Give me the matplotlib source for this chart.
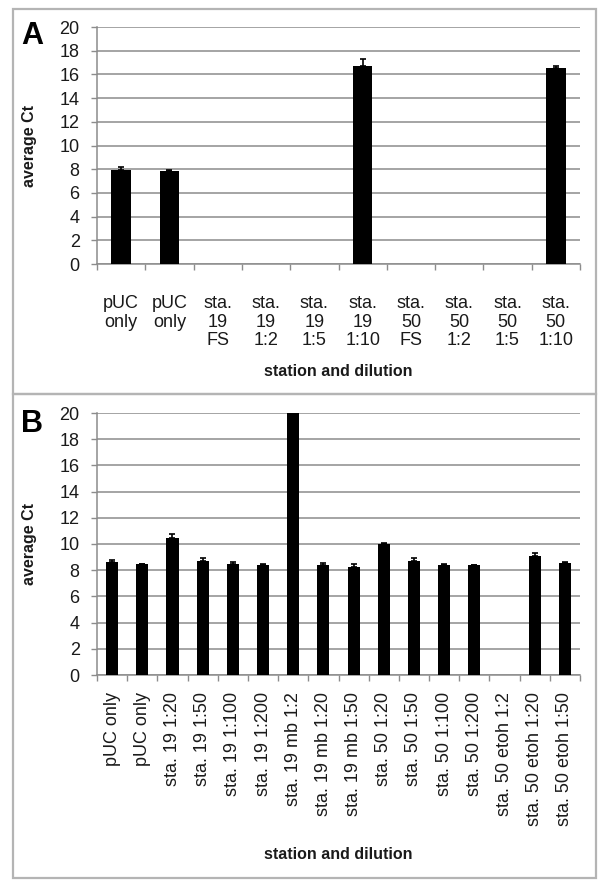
import numpy as np
import matplotlib
matplotlib.use("Agg")
import matplotlib.pyplot as plt
from matplotlib.patches import Rectangle

plt.rcParams["font.family"] = ["Liberation Sans", "DejaVu Sans"]

# panel A data
labels_a = ["pUC\nonly", "pUC\nonly", "sta.\n19\nFS", "sta.\n19\n1:2", "sta.\n19\n1:5",
            "sta.\n19\n1:10", "sta.\n50\nFS", "sta.\n50\n1:2", "sta.\n50\n1:5", "sta.\n50\n1:10"]
ct_a = [7.9, 7.85, 0, 0, 0, 16.7, 0, 0, 0, 16.5]
err_a = [0.25, 0.08, 0, 0, 0, 0.6, 0, 0, 0, 0.2]

# panel B data
labels_b = ["pUC only", "pUC only", "sta. 19 1:20", "sta. 19 1:50", "sta. 19 1:100",
            "sta. 19 1:200", "sta. 19 mb 1:2", "sta. 19 mb 1:20", "sta. 19 mb 1:50",
            "sta. 50 1:20", "sta. 50 1:50", "sta. 50 1:100", "sta. 50 1:200",
            "sta. 50 etoh 1:2", "sta. 50 etoh 1:20", "sta. 50 etoh 1:50"]
ct_b = [8.6, 8.45, 10.45, 8.7, 8.45, 8.4, 20.0, 8.38, 8.25, 10.0, 8.7, 8.43, 8.36, 0, 9.1, 8.53]
err_b = [0.17, 0.05, 0.35, 0.25, 0.2, 0.05, 0, 0.2, 0.22, 0.05, 0.25, 0.05, 0.05, 0, 0.2, 0.07]

W, H = 604, 888
TXT = "#1a1a1a"
GRID = "#8c8c8c"


def draw_panel(ax, labels, values, errs, rotate):
    n = len(values)
    x = np.arange(n)
    values = np.array(values)
    errs = np.array(errs)
    ax.bar(x, values, width=0.4, color="black", zorder=3)
    # only bars that have an error get a (plus-only) error bar
    m = errs > 0
    ax.errorbar(x[m], values[m], yerr=[np.zeros(m.sum()), errs[m]], fmt="none",
                ecolor="black", elinewidth=1.2, capsize=2.5, capthick=1.2, zorder=4)
    ax.set_xlim(-0.5, n - 0.5)
    ax.set_ylim(0, 20)
    ax.set_yticks(range(0, 21, 2))
    ax.yaxis.grid(True, color=GRID, lw=1.1, zorder=0)
    ax.set_axisbelow(True)
    for s in ["top", "right"]:
        ax.spines[s].set_visible(False)
    for s in ["left", "bottom"]:
        ax.spines[s].set_color(GRID)
        ax.spines[s].set_linewidth(1.1)
    # ticks at the category boundaries, labels at the centres
    ax.set_xticks(np.arange(n + 1) - 0.5)
    ax.set_xticklabels([])
    ax.set_xticks(x, minor=True)
    ax.tick_params(axis="x", which="major", length=4, color=GRID, width=1)
    ax.tick_params(axis="y", length=4, color=GRID, width=1, pad=8.5,
                   labelsize=13, labelcolor=TXT)
    if rotate:
        ax.set_xticklabels(labels, minor=True, rotation=90, fontsize=13, color=TXT)
        ax.tick_params(axis="x", which="minor", length=0, pad=12)
    else:
        ax.set_xticklabels(labels, minor=True, fontsize=13, color=TXT, va="top",
                           linespacing=1.15)
        ax.tick_params(axis="x", which="minor", length=0, pad=22)
    ax.set_ylabel("average Ct", fontsize=11.5, fontweight="bold", color=TXT)
    ax.yaxis.set_label_coords(-0.124, 0.5)
    ax.set_xlabel("station and dilution", fontsize=11.5, fontweight="bold", color=TXT)


fig = plt.figure(figsize=(W / 100, H / 100), dpi=100)

ax_a = fig.add_axes([97 / W, 1 - 264 / H, 483 / W, 237 / H])
draw_panel(ax_a, labels_a, ct_a, err_a, rotate=False)
ax_a.xaxis.set_label_coords(0.5, -0.42)

ax_b = fig.add_axes([97 / W, 1 - 675 / H, 483 / W, 262 / H])
draw_panel(ax_b, labels_b, ct_b, err_b, rotate=True)
ax_b.xaxis.set_label_coords(0.5, -0.655)

# panel frames
for top, bottom in [(9, 394), (394, 878)]:
    fig.add_artist(Rectangle((13 / W, 1 - bottom / H), (596 - 13) / W, (bottom - top) / H,
                             transform=fig.transFigure, fill=False,
                             edgecolor="#b4b4b4", lw=1.6))

fig.text(21 / W, 1 - 44 / H, "A", fontsize=22, fontweight="bold", color="black",
         ha="left", va="baseline")
fig.text(21 / W, 1 - 432 / H, "B", fontsize=22, fontweight="bold", color="black",
         ha="left", va="baseline")

fig.savefig("out.png", dpi=100)
